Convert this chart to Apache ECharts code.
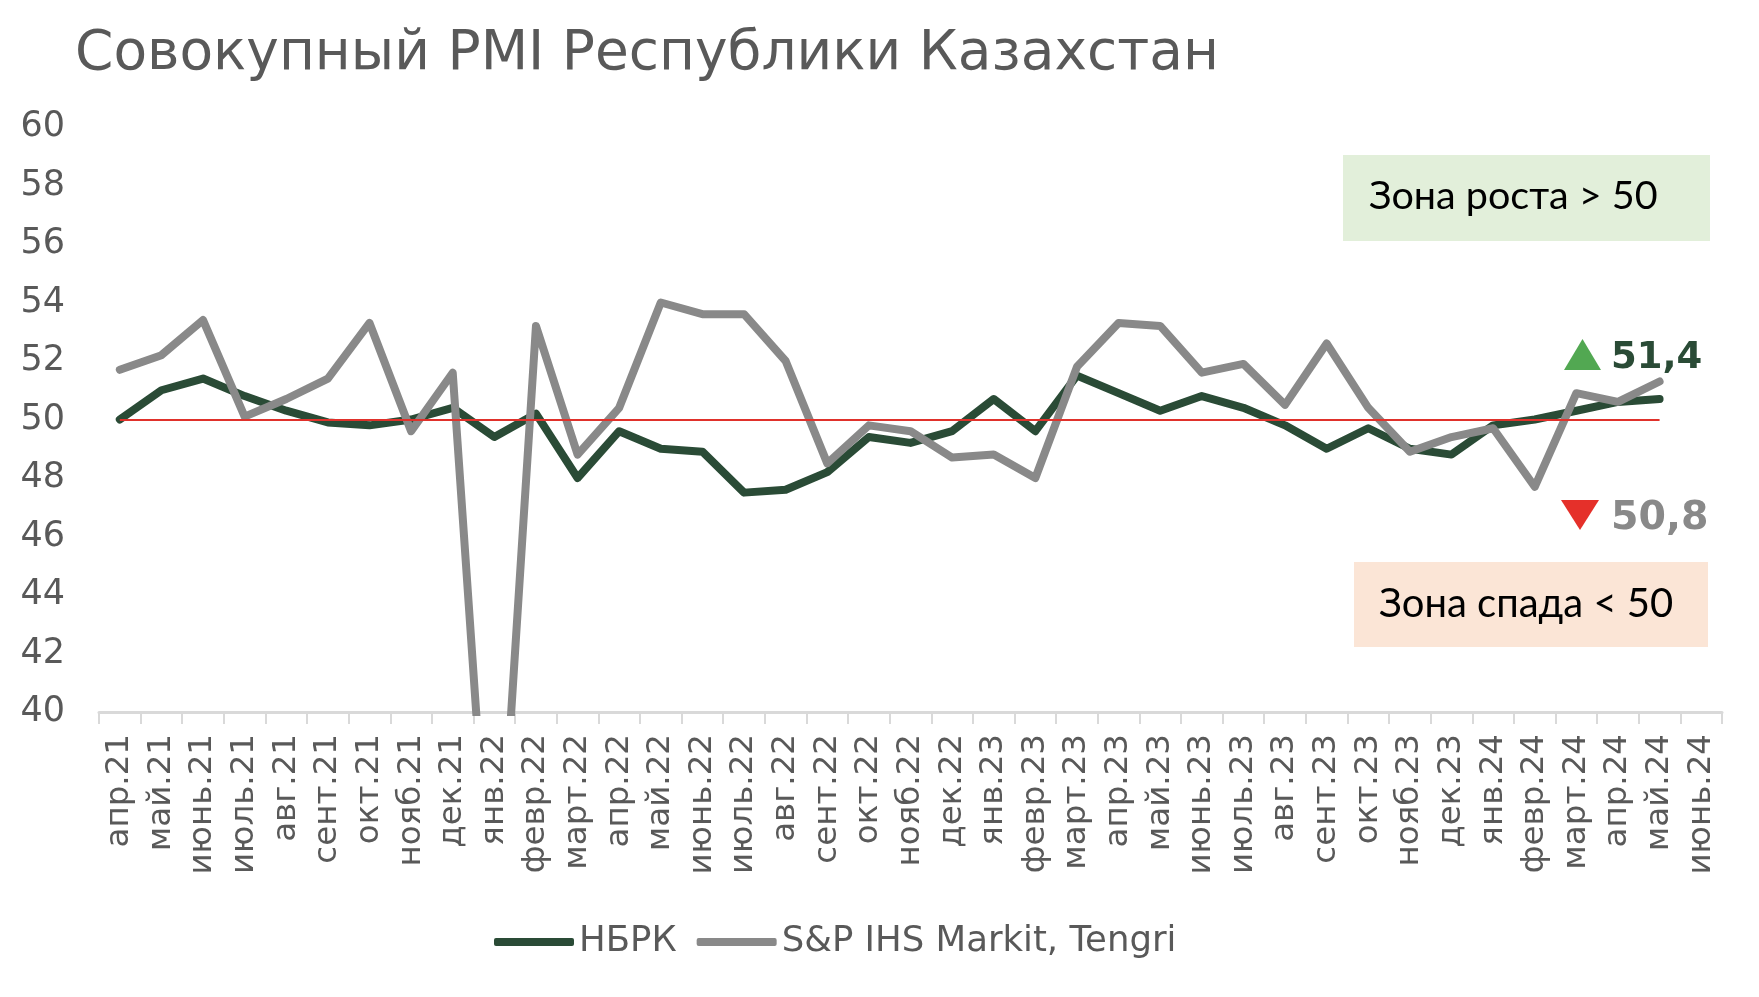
<!DOCTYPE html>
<html>
<head>
<meta charset="utf-8">
<script src="https://cdn.jsdelivr.net/npm/echarts@6/dist/echarts.min.js"></script>
<style>
html,body{margin:0;padding:0;background:#fff;}
#chart{width:1759px;height:997px;}
</style>
</head>
<body>
<div id="chart"></div>
<script>
const categories = ['апр.21','май.21','июнь.21','июль.21','авг.21','сент.21','окт.21','нояб.21','дек.21',
  'янв.22','февр.22','март.22','апр.22','май.22','июнь.22','июль.22','авг.22','сент.22','окт.22','нояб.22','дек.22',
  'янв.23','февр.23','март.23','апр.23','май.23','июнь.23','июль.23','авг.23','сент.23','окт.23','нояб.23','дек.23',
  'янв.24','февр.24','март.24','апр.24','май.24','июнь.24'];

const nbrk = [50.0,51.0,51.4,50.8,50.3,49.9,49.8,50.0,50.4,
  49.4,50.2,48.0,49.6,49.0,48.9,47.5,47.6,48.2,49.4,49.2,49.6,
  50.7,49.6,51.5,50.9,50.3,50.8,50.4,49.8,49.0,49.7,49.0,48.8,
  49.8,50.0,50.3,50.6,50.7,null];

const spTengri = [51.7,52.2,53.4,50.1,50.7,51.4,53.3,49.6,51.6,
  31.0,53.2,48.8,50.4,54.0,53.6,53.6,52.0,48.5,49.8,49.6,48.7,
  48.8,48.0,51.8,53.3,53.2,51.6,51.9,50.5,52.6,50.4,48.9,49.4,
  49.7,47.7,50.9,50.6,51.3,null];

const thresholdValue = 50;
const thresholdFrom = 'апр.21';
const thresholdTo = 'май.24';

const yMin = 40, yMax = 60, yStep = 2;

const titleText = 'Совокупный PMI Республики Казахстан';
const seriesNames = ['НБРК', 'S&P IHS Markit, Tengri'];
const zoneUpText = 'Зона роста > 50';
const zoneDownText = 'Зона спада < 50';
const upValueText = '51,4';
const downValueText = '50,8';

const FONT = '"DejaVu Sans", sans-serif';
const TXT = '#595959';
const GREEN = '#2a4b36';
const GRAY = '#898989';

const chart = echarts.init(document.getElementById('chart'), null, {renderer: 'canvas'});

chart.setOption({
  backgroundColor: '#ffffff',
  animation: false,
  title: {
    text: titleText,
    left: 70,
    top: 22,
    textStyle: {fontFamily: FONT, fontSize: 55, fontWeight: 'normal', color: TXT}
  },
  legend: {
    data: seriesNames,
    left: 489,
    top: 919,
    icon: 'roundRect',
    itemWidth: 80,
    itemHeight: 8,
    itemGap: 20,
    textStyle: {fontFamily: FONT, fontSize: 35.5, color: TXT}
  },
  grid: {left: 99, right: 37, top: 127, bottom: 285, containLabel: false},
  xAxis: {
    type: 'category',
    data: categories,
    boundaryGap: true,
    axisLine: {show: true, lineStyle: {color: '#d9d9d9', width: 3}},
    axisTick: {show: true, alignWithLabel: false, length: 12, lineStyle: {color: '#d9d9d9', width: 2}},
    axisLabel: {interval: 0, rotate: 90, margin: 22, fontFamily: FONT, fontSize: 32.5, color: TXT}
  },
  yAxis: {
    type: 'value',
    min: yMin, max: yMax, interval: yStep,
    axisLine: {show: false},
    axisTick: {show: false},
    splitLine: {show: false},
    axisLabel: {margin: 34, fontFamily: FONT, fontSize: 35, color: TXT, padding: [6, 0, 0, 0]}
  },
  series: [
    {
      name: seriesNames[0],
      type: 'line',
      data: nbrk,
      symbol: 'none',
      z: 2,
      lineStyle: {color: GREEN, width: 8, cap: 'round', join: 'round'},
      itemStyle: {color: GREEN}
    },
    {
      name: seriesNames[1],
      type: 'line',
      data: spTengri,
      symbol: 'none',
      z: 3,
      lineStyle: {color: GRAY, width: 8, cap: 'round', join: 'round'},
      itemStyle: {color: GRAY},
      markLine: {
        silent: true,
        symbol: ['none', 'none'],
        label: {show: false},
        lineStyle: {color: '#e0312b', width: 2, type: 'solid'},
        data: [[{coord: [thresholdFrom, thresholdValue]}, {coord: [thresholdTo, thresholdValue]}]]
      }
    }
  ],
  graphic: [
    {type: 'rect', shape: {x: 1343, y: 155, width: 367, height: 86}, style: {fill: '#e2efda'}, z: 1},
    {type: 'text', style: {x: 1369, y: 196, text: zoneUpText, fill: '#000', font: '39.5px Lato, sans-serif', textVerticalAlign: 'middle'}, z: 5},
    {type: 'rect', shape: {x: 1354, y: 562, width: 354, height: 85}, style: {fill: '#fbe5d6'}, z: 1},
    {type: 'text', style: {x: 1379, y: 604, text: zoneDownText, fill: '#000', font: '40px Lato, sans-serif', textVerticalAlign: 'middle'}, z: 5},
    {type: 'polygon', shape: {points: [[1564, 370], [1601, 370], [1582.5, 339]]}, style: {fill: '#52a852'}, z: 5},
    {type: 'text', style: {x: 1611, y: 358, text: upValueText, fill: GREEN, font: 'bold 37px "DejaVu Sans", sans-serif', textVerticalAlign: 'middle'}, z: 5},
    {type: 'polygon', shape: {points: [[1561, 500], [1599, 500], [1580, 530]]}, style: {fill: '#e5302a'}, z: 5},
    {type: 'text', style: {x: 1611, y: 519, text: downValueText, fill: GRAY, font: 'bold 39.5px "DejaVu Sans", sans-serif', textVerticalAlign: 'middle'}, z: 5}
  ]
});
</script>
</body>
</html>
